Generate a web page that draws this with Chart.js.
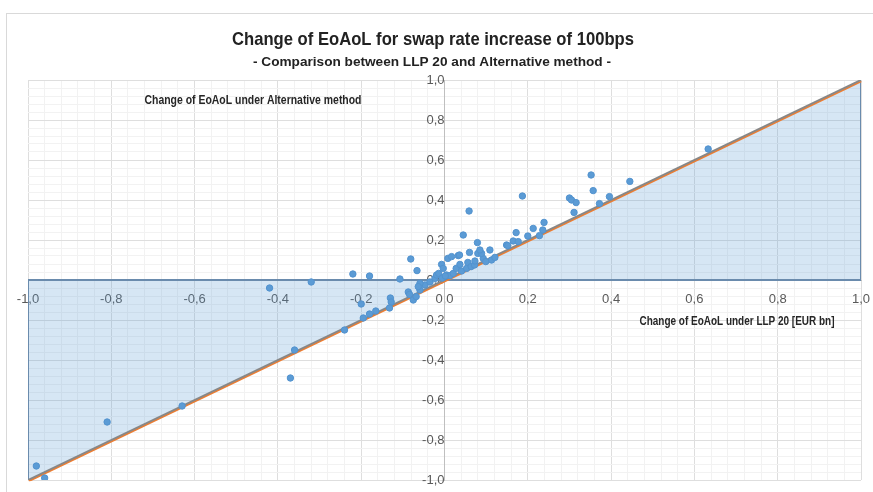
<!DOCTYPE html>
<html>
<head>
<meta charset="utf-8">
<script src="https://cdn.jsdelivr.net/npm/chart.js@4"></script>
<style>
  html, body { margin: 0; padding: 0; background: #fff; }
  canvas { display: block; }
</style>
</head>
<body>
<canvas id="chart" width="873" height="492"></canvas>
<script>
// change of EoAoL, LLP 20 (x) vs alternative method (y), EUR bn
const llp20 = [
  -0.98, -0.96, -0.81, -0.63, -0.42, -0.32, -0.36, -0.37, -0.24, -0.22,
  -0.18, -0.20, -0.195, -0.18, -0.165, -0.13, -0.128, -0.132, -0.107, -0.081,
  -0.066, -0.087, -0.084, -0.075, -0.068, -0.059, -0.047, -0.059, -0.063, -0.035,
  -0.023, -0.019, -0.014, -0.007, -0.003, 0.005, 0.013, 0.021, 0.028, 0.037,
  0.041, 0.053, 0.056, 0.064, 0.072, 0.073, 0.093, 0.099, 0.113, 0.121,
  0.008, 0.017, 0.033, 0.036, 0.06, 0.08, 0.089, 0.085, 0.109, 0.045,
  0.079, 0.059, 0.149, 0.165, 0.152, 0.172, 0.177, 0.2, 0.213, 0.228,
  0.236, 0.239, 0.187, 0.30, 0.305, 0.316, 0.311, 0.352, 0.357, 0.372,
  0.396, 0.445, 0.633, -0.005, 0.002
];
const alternative = [
  -0.93, -0.99, -0.71, -0.63, -0.04, -0.01, -0.35, -0.49, -0.25, 0.03,
  0.02, -0.12, -0.19, -0.17, -0.155, -0.09, -0.11, -0.14, 0.005, 0.105,
  0.047, -0.06, -0.072, -0.10, -0.083, -0.05, -0.025, -0.017, -0.033, -0.01,
  0.008, 0.025, 0.033, 0.078, 0.058, 0.025, 0.022, 0.033, 0.058, 0.078,
  0.045, 0.058, 0.088, 0.067, 0.075, 0.095, 0.108, 0.092, 0.10, 0.113,
  0.108, 0.117, 0.122, 0.125, 0.138, 0.133, 0.133, 0.15, 0.15, 0.225,
  0.187, 0.345, 0.175, 0.195, 0.172, 0.237, 0.192, 0.22, 0.258, 0.222,
  0.25, 0.288, 0.42, 0.41, 0.40, 0.387, 0.338, 0.525, 0.447, 0.382,
  0.417, 0.493, 0.655, 0.01, 0.02
];

// reference lines: y = x and the shaded band outline
const diagX = [-1, 1];
const diagY = [-1, 1];
const outlineX = [-1, -1, 1, 1];
const outlineY = [-1, 0, 0, 1];

const axisMin = -1, axisMax = 1, minorStep = 0.04;

const titleText = 'Change of EoAoL for swap rate increase of 100bps';
const subtitleText = '- Comparison between LLP 20 and Alternative method -';
const yTitleText = 'Change of EoAoL under Alternative method';
const xTitleText = 'Change of EoAoL under LLP 20 [EUR bn]';

const FONT = '"Liberation Sans Narrow", "Liberation Sans", sans-serif';

const toPoints = (xs, ys) => xs.map((x, i) => ({ x: x, y: ys[i] }));

const isMajor = v => Math.abs(v * 5 - Math.round(v * 5)) < 1e-6;
const fmt = v => {
  if (!isMajor(v)) return '';
  const r = Math.round(v * 5) / 5;
  return (r === 0 ? 0 : r).toFixed(1).replace('.', ',');
};

// draw text squeezed to a given width (Calibri-like look)
function fitText(ctx, text, cx, cy, width, size, color) {
  ctx.save();
  ctx.font = 'bold ' + size + 'px ' + FONT;
  const w = ctx.measureText(text).width;
  ctx.translate(cx, cy);
  ctx.scale(width / w, 1);
  ctx.fillStyle = color;
  ctx.textAlign = 'center';
  ctx.textBaseline = 'middle';
  ctx.fillText(text, 0, 0);
  ctx.restore();
}

const decorations = {
  id: 'decorations',
  beforeDraw(chart) {
    const ctx = chart.ctx;
    ctx.save();
    ctx.fillStyle = '#fff';
    ctx.fillRect(0, 0, chart.width, chart.height);
    ctx.strokeStyle = '#d9d9d9';
    ctx.lineWidth = 1;
    ctx.strokeRect(6.5, 13.5, chart.width + 10, chart.height + 10);
    ctx.restore();
  },
  // orange y=x line sits just under the grey one
  beforeDatasetDraw(chart, args) {
    if (args.index === 2) {
      chart.ctx.save();
      chart.ctx.translate(0.6, 1.2);
    }
  },
  afterDatasetDraw(chart, args) {
    if (args.index === 2) chart.ctx.restore();
  },
  afterDraw(chart) {
    const ctx = chart.ctx;
    fitText(ctx, titleText, 433, 40, 402, 19, '#222');
    fitText(ctx, subtitleText, 432, 62, 358, 13, '#222');
    fitText(ctx, yTitleText, 253, 101, 217, 12, '#262626');
    fitText(ctx, xTitleText, 737, 322, 195, 12, '#262626');
  }
};

const gridColor = c => isMajor(c.tick.value) ? '#dedede' : '#f2f2f2';

// labels may hang over the plot edge, like in the original
const noOverhang = scale => {
  scale.paddingLeft = 0;
  scale.paddingRight = 0;
  scale.paddingTop = 0;
  scale.paddingBottom = 0;
};

new Chart(document.getElementById('chart').getContext('2d'), {
  type: 'scatter',
  data: {
    datasets: [
      {
        label: 'Alternative vs LLP 20',
        data: toPoints(llp20, alternative),
        backgroundColor: '#5b9bd5',
        borderColor: '#5393cf',
        borderWidth: 1,
        pointRadius: 3.2,
        order: 0
      },
      {
        label: 'y = x',
        data: toPoints(diagX, diagY),
        showLine: true,
        borderColor: '#878787',
        borderWidth: 2,
        pointRadius: 0,
        order: 1
      },
      {
        label: 'y = x (2)',
        data: toPoints(diagX, diagY),
        showLine: true,
        borderColor: '#ed7d31',
        borderWidth: 2,
        pointRadius: 0,
        order: 2
      },
      {
        label: 'outline',
        data: toPoints(outlineX, outlineY),
        showLine: true,
        borderColor: '#6a8bad',
        borderWidth: 2,
        pointRadius: 0,
        order: 3
      },
      {
        label: 'band',
        data: toPoints(diagX, diagY),
        showLine: true,
        borderWidth: 0,
        pointRadius: 0,
        backgroundColor: 'rgba(91,155,213,0.25)',
        fill: { value: 0 },
        order: 4
      }
    ]
  },
  options: {
    responsive: false,
    animation: false,
    layout: { padding: { left: 28, right: 12, top: 80, bottom: 12 } },
    plugins: {
      legend: { display: false },
      tooltip: { enabled: false },
      filler: { drawTime: 'beforeDatasetsDraw' }
    },
    scales: {
      x: {
        type: 'linear',
        min: axisMin,
        max: axisMax,
        position: { y: 0 },
        afterFit: noOverhang,
        grid: { color: gridColor, drawTicks: false },
        border: { color: '#bfbfbf' },
        ticks: {
          stepSize: minorStep,
          autoSkip: false,
          maxRotation: 0,
          padding: 12,
          color: '#595959',
          font: { family: FONT, size: 13 },
          callback: v => fmt(v)
        }
      },
      y: {
        type: 'linear',
        min: axisMin,
        max: axisMax,
        position: { x: 0 },
        afterFit: noOverhang,
        grid: { color: gridColor, drawTicks: false },
        border: { color: '#bfbfbf' },
        ticks: {
          stepSize: minorStep,
          autoSkip: false,
          padding: 9,
          color: '#595959',
          font: { family: FONT, size: 13 },
          callback: v => fmt(v)
        }
      }
    }
  },
  plugins: [decorations]
});
</script>
</body>
</html>
